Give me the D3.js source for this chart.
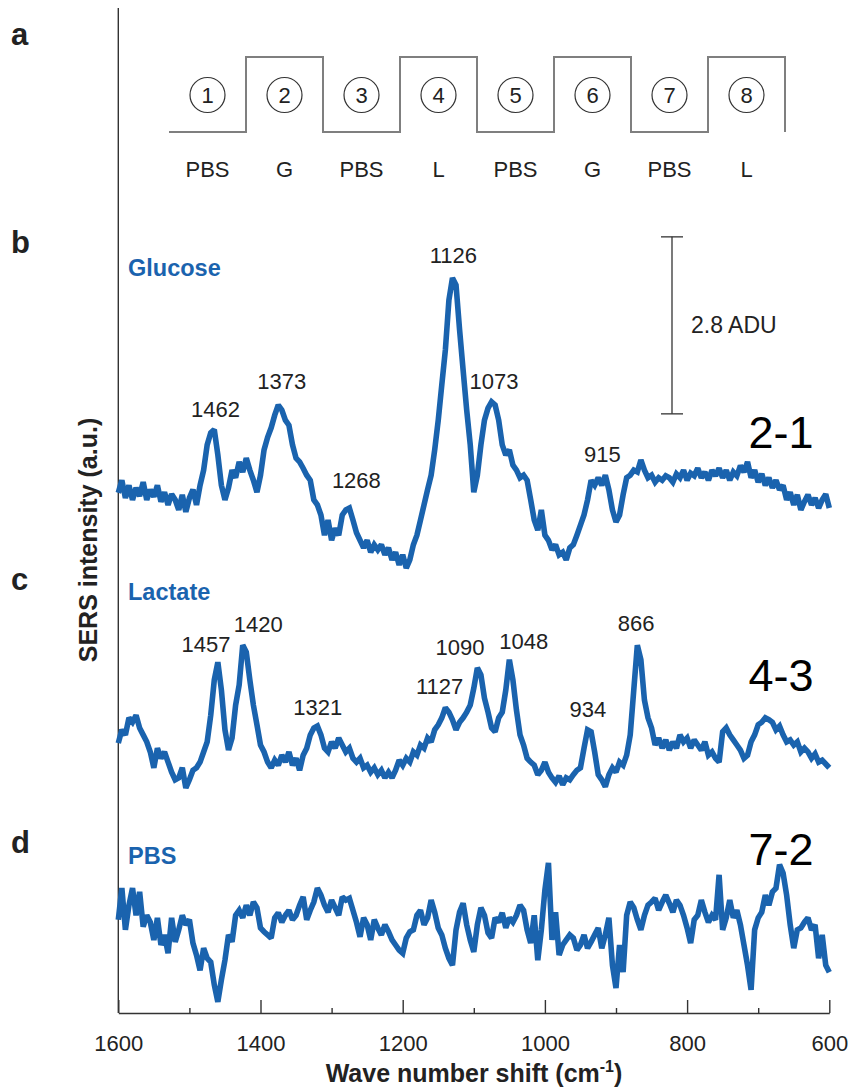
<!DOCTYPE html>
<html>
<head>
<meta charset="utf-8">
<script src="https://cdn.jsdelivr.net/npm/d3@7"></script>
<style>
  body { margin: 0; background: #fff; }
  svg text { font-family: "Liberation Sans", Arial, Helvetica, sans-serif; }
</style>
</head>
<body>
<svg id="chart" width="852" height="1090"></svg>
<script>
// Spectra are sampled every 5 cm-1, from 1600 cm-1 down to 600 cm-1 (intensities in ADU).
const waveStart = 1600;
const waveStep = 5;

// Difference spectrum 2-1 (glucose)
const glucose = [
  1.22, 1.42, 1.14, 1.34, 1.11, 1.30, 1.17, 1.39, 1.11, 1.27,
  1.16, 1.34, 1.08, 1.23, 1.03, 1.20, 1.11, 0.95, 1.19, 0.92,
  1.14, 1.27, 1.03, 1.34, 1.58, 1.98, 2.17, 2.22, 1.82, 1.34,
  1.11, 1.30, 1.58, 1.46, 1.71, 1.55, 1.77, 1.58, 1.42, 1.23,
  1.50, 1.90, 2.10, 2.25, 2.45, 2.61, 2.53, 2.37, 2.29, 1.98,
  1.77, 1.71, 1.61, 1.50, 1.42, 1.11, 1.03, 0.87, 0.55, 0.79,
  0.47, 0.66, 0.55, 0.87, 0.95, 0.98, 0.79, 0.59, 0.47, 0.35,
  0.47, 0.28, 0.40, 0.32, 0.40, 0.24, 0.35, 0.16, 0.28, 0.08,
  0.24, 0.03, 0.16, 0.40, 0.55, 0.79, 1.03, 1.27, 1.50, 1.90,
  2.37, 2.93, 3.48, 4.27, 4.62, 4.51, 3.80, 3.16, 2.53, 1.98,
  1.23, 1.50, 1.98, 2.37, 2.56, 2.66, 2.61, 2.37, 1.98, 1.82,
  1.90, 1.66, 1.58, 1.46, 1.50, 1.42, 1.11, 0.79, 0.63, 0.95,
  0.55, 0.47, 0.32, 0.40, 0.24, 0.28, 0.16, 0.35, 0.40, 0.55,
  0.71, 0.87, 1.11, 1.42, 1.34, 1.46, 1.34, 1.50, 1.27, 0.95,
  0.76, 0.87, 1.19, 1.46, 1.50, 1.58, 1.55, 1.74, 1.58, 1.46,
  1.50, 1.39, 1.46, 1.42, 1.49, 1.46, 1.39, 1.52, 1.46, 1.58,
  1.42, 1.53, 1.49, 1.61, 1.46, 1.55, 1.42, 1.58, 1.49, 1.61,
  1.46, 1.58, 1.42, 1.55, 1.49, 1.65, 1.55, 1.71, 1.46, 1.58,
  1.39, 1.52, 1.34, 1.46, 1.30, 1.42, 1.27, 1.34, 1.11, 1.23,
  1.03, 1.19, 0.95, 1.08, 1.19, 1.03, 1.14, 0.98, 1.11, 1.20,
  0.98
];

// Difference spectrum 4-3 (lactate)
const lactate = [
  0.90, 1.11, 1.03, 1.30, 1.23, 1.34, 1.14, 1.03, 0.92, 0.76,
  0.51, 0.82, 0.66, 0.76, 0.60, 0.44, 0.32, 0.35, 0.51, 0.19,
  0.32, 0.47, 0.51, 0.60, 0.76, 0.92, 1.34, 1.90, 2.18, 1.74,
  1.11, 0.79, 0.98, 1.50, 1.82, 2.45, 2.34, 1.90, 1.50, 1.19,
  0.87, 0.76, 0.60, 0.51, 0.63, 0.55, 0.71, 0.60, 0.76, 0.55,
  0.66, 0.47, 0.71, 0.82, 1.03, 1.14, 1.17, 1.03, 0.82, 0.76,
  0.92, 0.82, 0.98, 0.87, 0.76, 0.82, 0.66, 0.60, 0.66, 0.51,
  0.55, 0.44, 0.51, 0.40, 0.47, 0.35, 0.44, 0.35, 0.47, 0.63,
  0.55, 0.66, 0.60, 0.76, 0.71, 0.87, 0.82, 0.98, 0.92, 1.11,
  1.19, 1.30, 1.46, 1.39, 1.27, 1.11, 1.23, 1.30, 1.39, 1.50,
  1.77, 2.09, 1.98, 1.61, 1.39, 1.14, 1.08, 1.30, 1.39, 1.74,
  2.22, 1.90, 1.42, 1.03, 0.87, 0.66, 0.60, 0.55, 0.40, 0.47,
  0.60, 0.44, 0.35, 0.28, 0.38, 0.24, 0.35, 0.32, 0.40, 0.47,
  0.51, 0.82, 1.11, 1.08, 0.76, 0.40, 0.32, 0.21, 0.40, 0.51,
  0.44, 0.60, 0.55, 0.71, 1.03, 1.74, 2.45, 2.22, 1.58, 1.30,
  1.14, 0.87, 0.98, 0.82, 0.95, 0.79, 0.92, 0.82, 1.03, 0.92,
  0.98, 0.82, 0.95, 0.87, 0.79, 0.92, 0.71, 0.76, 0.66, 0.60,
  1.08, 1.14, 1.03, 0.95, 0.87, 0.79, 0.66, 0.71, 0.92, 1.03,
  1.19, 1.23, 1.30, 1.27, 1.23, 1.11, 1.17, 1.03, 0.92, 0.95,
  0.87, 0.92, 0.76, 0.82, 0.76, 0.66, 0.73, 0.60, 0.63, 0.57,
  0.51
];

// Difference spectrum 7-2 (PBS control)
const pbs = [
  1.27, 1.77, 1.11, 1.50, 1.77, 1.34, 1.71, 1.16, 1.34, 1.23,
  0.95, 1.30, 0.87, 1.03, 0.74, 1.30, 0.92, 1.11, 1.34, 1.19,
  1.27, 0.90, 0.71, 0.47, 0.82, 0.66, 0.60, 0.24, -0.03, 0.32,
  0.63, 1.03, 0.92, 1.34, 1.42, 1.30, 1.50, 1.34, 1.55, 1.46,
  1.14, 1.08, 1.03, 0.98, 1.30, 1.38, 1.23, 1.34, 1.42, 1.27,
  1.34, 1.50, 1.63, 1.27, 1.42, 1.55, 1.77, 1.66, 1.50, 1.39,
  1.58, 1.46, 1.34, 1.63, 1.58, 1.61, 1.42, 1.23, 1.00, 1.30,
  1.19, 0.95, 1.27, 1.14, 1.03, 1.19, 1.08, 0.95, 0.87, 0.79,
  0.74, 0.98, 1.08, 1.11, 1.34, 1.42, 1.19, 1.30, 1.58, 1.39,
  1.14, 1.03, 0.82, 0.66, 0.55, 1.11, 1.39, 1.53, 1.19, 0.95,
  0.76, 1.19, 1.46, 1.34, 1.06, 0.98, 1.30, 1.23, 1.38, 1.14,
  1.30, 1.23, 1.34, 1.50, 1.42, 1.11, 0.90, 1.34, 0.63, 1.11,
  1.74, 2.17, 0.95, 1.39, 0.71, 0.87, 0.95, 1.03, 0.98, 0.79,
  0.87, 1.03, 0.82, 0.92, 1.03, 1.14, 0.82, 1.03, 1.30, 0.55,
  0.19, 0.87, 0.44, 1.34, 1.55, 1.46, 1.27, 1.11, 1.34, 1.50,
  1.55, 1.61, 1.42, 1.55, 1.66, 1.53, 1.39, 1.58, 1.50, 1.34,
  1.14, 0.90, 1.27, 1.34, 1.58, 1.39, 1.23, 1.34, 1.27, 1.98,
  1.11, 1.30, 1.58, 1.30, 1.42, 1.19, 0.87, 0.55, 0.16, 1.11,
  1.30, 1.39, 1.66, 1.50, 1.71, 1.77, 2.14, 2.01, 1.66, 1.19,
  0.82, 1.11, 1.14, 1.23, 1.30, 1.11, 1.19, 0.66, 1.03, 0.55,
  0.44
];

// Axis ticks
const majorTicks = [1600, 1400, 1200, 1000, 800, 600];
const minorTicks = [1500, 1300, 1100, 900, 700];

// Perfusion schedule for panel a
const steps = ["1", "2", "3", "4", "5", "6", "7", "8"];
const stepSolutions = ["PBS", "G", "PBS", "L", "PBS", "G", "PBS", "L"];
const stepLevels = [0, 1, 0, 1, 0, 1, 0, 1];

// Labelled Raman bands
const glucoseBands = [1462, 1373, 1268, 1126, 1073, 915];
const lactateBands = [1457, 1420, 1321, 1127, 1090, 1048, 934, 866];

// Intensity scale bar
const scaleBarADU = 2.8;

// ---------------------------------------------------------------
const BLUE = "#1a63ae";
const INK = "#222";
const svg = d3.select("#chart");

const x = d3.scaleLinear().domain([1600, 600]).range([118.3, 829.3]);
const pxPerScaleBar = 177;
function panelScale(zeroY) {
  return d3.scaleLinear().domain([0, scaleBarADU]).range([zeroY, zeroY - pxPerScaleBar]);
}
const yG = panelScale(570);
const yL = panelScale(800);
const yP = panelScale(1000);

const toPoints = arr => arr.map((v, i) => ({ wn: waveStart - i * waveStep, v }));

function drawSpectrum(arr, y) {
  const line = d3.line().x(d => x(d.wn)).y(d => y(d.v));
  svg.append("path")
    .datum(toPoints(arr))
    .attr("d", line)
    .attr("fill", "none")
    .attr("stroke", BLUE)
    .attr("stroke-width", 5.6)
    .attr("stroke-linejoin", "miter")
    .attr("stroke-miterlimit", 2);
}

// ---- axes ----
const axisBottom = svg.append("g")
  .attr("transform", "translate(0,1013)")
  .call(d3.axisBottom(x).tickValues(majorTicks).tickSizeInner(-13).tickSizeOuter(0).tickPadding(22).tickFormat(d3.format("d")));
axisBottom.select(".domain").attr("stroke", "#333").attr("stroke-width", 1.4);
axisBottom.selectAll(".tick line").attr("stroke", "#333").attr("stroke-width", 1.4);
axisBottom.selectAll(".tick text")
  .attr("fill", INK)
  .style("font-size", "22px")
  .style("font-family", "'Liberation Sans', Arial, sans-serif");

const axisMinor = svg.append("g")
  .attr("transform", "translate(0,1013)")
  .call(d3.axisBottom(x).tickValues(minorTicks).tickSizeInner(-5).tickSizeOuter(0).tickFormat(""));
axisMinor.select(".domain").remove();
axisMinor.selectAll(".tick line").attr("stroke", "#333").attr("stroke-width", 1.4);

// left spine
svg.append("line")
  .attr("x1", x(1600)).attr("x2", x(1600))
  .attr("y1", 8).attr("y2", 1013)
  .attr("stroke", "#333").attr("stroke-width", 1.4);

// axis titles
svg.append("text")
  .attr("transform", "translate(97,540) rotate(-90)")
  .attr("text-anchor", "middle")
  .attr("fill", INK)
  .style("font-size", "25px").style("font-weight", "bold")
  .text("SERS intensity (a.u.)");

const xTitle = svg.append("text")
  .attr("x", 474).attr("y", 1082)
  .attr("text-anchor", "middle")
  .attr("fill", INK)
  .style("font-size", "25px").style("font-weight", "bold");
xTitle.append("tspan").text("Wave number shift (cm");
xTitle.append("tspan").attr("dy", -10).style("font-size", "16px").text("-1");
xTitle.append("tspan").attr("dy", 10).text(")");

// panel letters
[["a", 45], ["b", 253], ["c", 590], ["d", 853]].forEach(([t, yy]) => {
  svg.append("text").attr("x", 11).attr("y", yy)
    .attr("fill", INK)
    .style("font-size", "31px").style("font-weight", "bold")
    .text(t);
});

// ---- panel a: perfusion schedule ----
const sx = d3.scaleLinear().domain([0, steps.length]).range([169, 785]);
const sy = d3.scaleLinear().domain([0, 1]).range([132, 57]);
const stepPts = stepLevels.map((l, i) => [i, l]);
stepPts.push([steps.length, stepLevels[stepLevels.length - 1]]);
stepPts.push([steps.length, 0]);
svg.append("path")
  .attr("d", d3.line().x(d => sx(d[0])).y(d => sy(d[1])).curve(d3.curveStepAfter)(stepPts))
  .attr("fill", "none").attr("stroke", "#7f7f7f").attr("stroke-width", 2);

const stepG = svg.append("g").selectAll("g").data(steps).join("g")
  .attr("transform", (d, i) => `translate(${sx(i + 0.5)},0)`);
stepG.append("circle").attr("cy", 95).attr("r", 17.5)
  .attr("fill", "none").attr("stroke", "#333").attr("stroke-width", 1.2);
stepG.append("text").attr("y", 103).attr("text-anchor", "middle")
  .attr("fill", INK).style("font-size", "22px").text(d => d);
stepG.append("text").attr("y", 177).attr("text-anchor", "middle")
  .attr("fill", INK).style("font-size", "22px").text((d, i) => stepSolutions[i]);

// ---- spectra ----
drawSpectrum(glucose, yG);
drawSpectrum(lactate, yL);
drawSpectrum(pbs, yP);

// band labels positioned above the local maximum of each band
function localMax(arr, wn) {
  const pts = toPoints(arr).filter(p => Math.abs(p.wn - wn) <= 7);
  return d3.max(pts, p => p.v);
}
const glucoseLabelOffsets = [[-1, -13], [2, -16], [2, -20], [-2, -15], [1, -13], [-3, -13]];
const lactateLabelOffsets = [[-14, -10], [12, -13], [1, -11], [-15, -26], [-21, -13], [13, -11], [-4, -13], [-4, -14]];
function bandLabels(bands, offsets, arr, y) {
  svg.append("g").selectAll("text").data(bands).join("text")
    .attr("x", (d, i) => x(d) + offsets[i][0])
    .attr("y", (d, i) => y(localMax(arr, d)) + offsets[i][1])
    .attr("text-anchor", "middle")
    .attr("fill", INK)
    .style("font-size", "22px")
    .text(d => d);
}
bandLabels(glucoseBands, glucoseLabelOffsets, glucose, yG);
bandLabels(lactateBands, lactateLabelOffsets, lactate, yL);

// series names
[["Glucose", 276], ["Lactate", 600], ["PBS", 864]].forEach(([t, yy]) => {
  svg.append("text").attr("x", 128).attr("y", yy)
    .attr("fill", BLUE)
    .style("font-size", "23.5px").style("font-weight", "bold")
    .text(t);
});

// difference labels
[["2-1", 448], ["4-3", 691], ["7-2", 865]].forEach(([t, yy]) => {
  svg.append("text").attr("x", 781).attr("y", yy)
    .attr("text-anchor", "middle")
    .attr("fill", "#000")
    .style("font-size", "45px")
    .text(t);
});

// scale bar (2.8 ADU) on the glucose scale
const barBase = 2.47;
const barX = 672;
const barG = svg.append("g").attr("stroke", "#333").attr("stroke-width", 1.3);
barG.append("line").attr("x1", barX).attr("x2", barX)
  .attr("y1", yG(barBase)).attr("y2", yG(barBase + scaleBarADU));
[barBase, barBase + scaleBarADU].forEach(v => {
  barG.append("line").attr("x1", barX - 11).attr("x2", barX + 11)
    .attr("y1", yG(v)).attr("y2", yG(v));
});
svg.append("text").attr("x", 691).attr("y", 333)
  .attr("fill", INK).style("font-size", "23px")
  .text(`${scaleBarADU} ADU`);
</script>
</body>
</html>
